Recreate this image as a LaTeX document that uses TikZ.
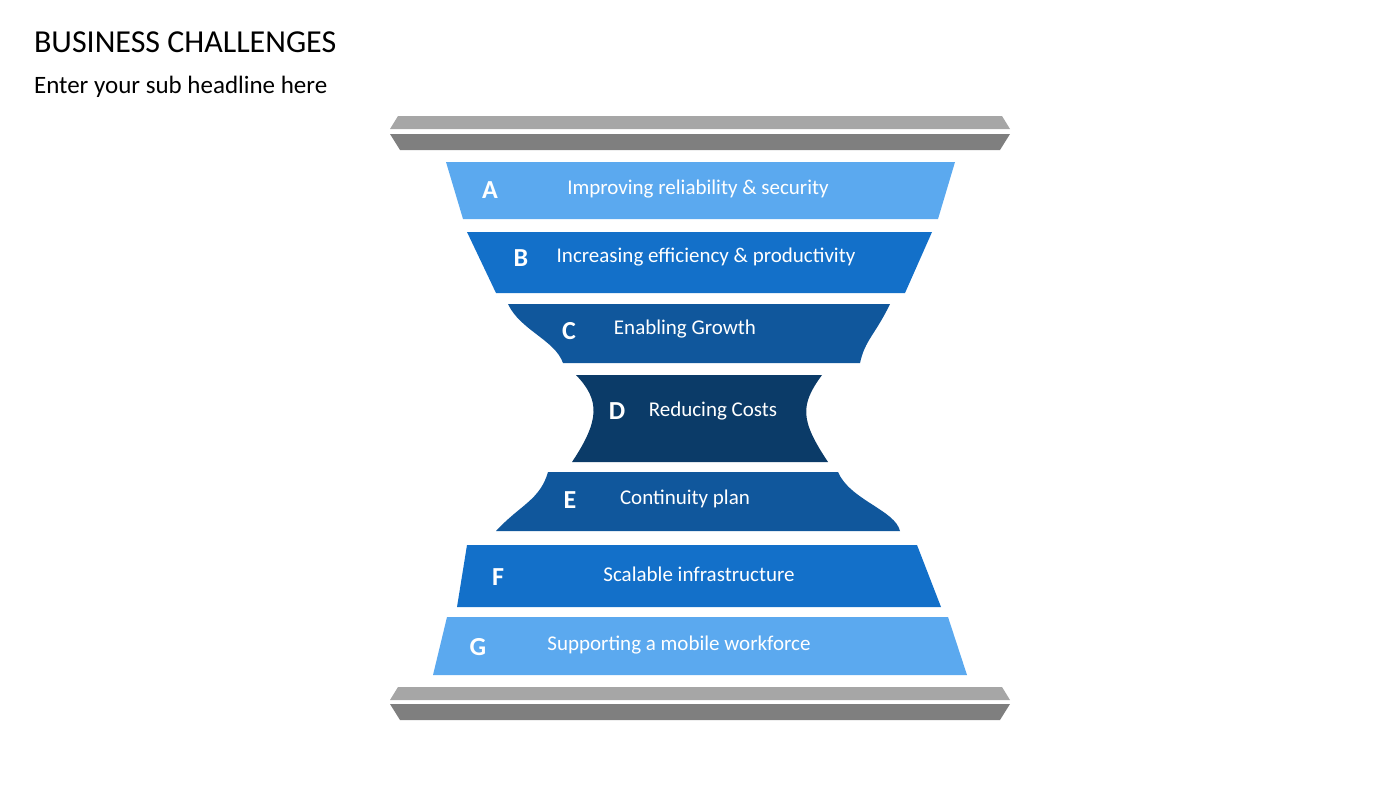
\documentclass[tikz,border=0pt]{standalone}
\usepackage{fontspec}
\setmainfont{Carlito}
\usetikzlibrary{positioning}
\definecolor{lightblue}{HTML}{5BA9EF}
\definecolor{midblue}{HTML}{1370C9}
\definecolor{deepblue}{HTML}{10579C}
\definecolor{darkblue}{HTML}{0B3B68}
\definecolor{barlight}{HTML}{A6A6A6}
\definecolor{bardark}{HTML}{7F7F7F}
\tikzset{letter/.style={text=white,font=\fontsize{13}{15}\selectfont\bfseries},
  label/.style={text=white,font=\fontsize{10.5}{12}\selectfont}}
\begin{document}
\begin{tikzpicture}[x=0.5pt,y=-0.5pt]
\useasboundingbox (0,0) rectangle (1400,788);
% titles
\node[anchor=west,font=\fontsize{16}{18}\selectfont] (title) at (27,42) {BUSINESS CHALLENGES};
\node[anchor=west,font=\fontsize{12.5}{14}\selectfont] (sub) at (27,87) {Enter your sub headline here};
% bars
\fill[barlight] (398,116) -- (1002,116) -- (1010,129) -- (390,129) -- cycle;
\fill[bardark] (390,134) -- (1010,134) -- (1000,150) -- (400,150) -- cycle;
\fill[barlight] (398,687) -- (1002,687) -- (1010,700) -- (390,700) -- cycle;
\fill[bardark] (390,704) -- (1010,704) -- (1000,720) -- (400,720) -- cycle;
% bands
\fill[lightblue] (446,162) -- (955,162) -- (938,219) -- (463,219) -- cycle;
\fill[midblue] (467,232) -- (932,232) -- (905,293) -- (496,293) -- cycle;
\fill[deepblue] (508,304) -- (890,304) .. controls (875,335) and (865,340) .. (860,363)
  -- (563,363) .. controls (555,340) and (520,330) .. cycle;
\fill[darkblue] (576,375) -- (822,375) .. controls (800,405) and (800,420) .. (828,462)
  -- (572,462) .. controls (600,420) and (600,400) .. cycle;
\fill[deepblue] (548,472) -- (838,472) .. controls (850,500) and (895,510) .. (900,531)
  -- (496,531) .. controls (520,505) and (540,500) .. cycle;
\fill[midblue] (467,545) -- (917,545) -- (941,607) -- (457,607) -- cycle;
\fill[lightblue] (447,617) -- (948,617) -- (967,675) -- (433,675) -- cycle;
% labels
\node[letter] (lA) at (490,190) {A};
\node[label] (tA) at (698,189) {Improving reliability \& security};
\node[letter] (lB) at (521,258) {B};
\node[label] (tB) at (706,257) {Increasing efficiency \& productivity};
\node[letter] (lC) at (569,331) {C};
\node[label] (tC) at (685,329) {Enabling Growth};
\node[letter] (lD) at (617,411) {D};
\node[label] (tD) at (713,411) {Reducing Costs};
\node[letter] (lE) at (570,500) {E};
\node[label] (tE) at (685,499) {Continuity plan};
\node[letter] (lF) at (498,577) {F};
\node[label] (tF) at (699,574) {Scalable infrastructure};
\node[letter] (lG) at (478,647) {G};
\node[label] (tG) at (679,645) {Supporting a mobile workforce};
\end{tikzpicture}
\end{document}
